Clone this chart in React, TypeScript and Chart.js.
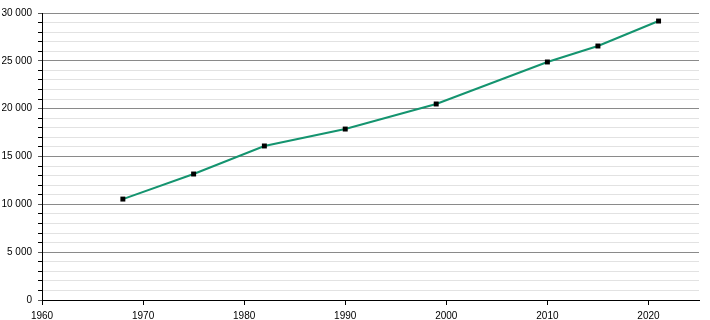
import React, { useEffect, useRef } from "react";
import { Chart, registerables } from "chart.js";

Chart.register(...registerables);

const years = [1968, 1975, 1982, 1990, 1999, 2010, 2015, 2021];
const population = [10550, 13170, 16100, 17870, 20490, 24880, 26550, 29160];
const yTickLabels = ["0", "5 000", "10 000", "15 000", "20 000", "25 000", "30 000"];
const xTickLabels = ["1960", "1970", "1980", "1990", "2000", "2010", "2020"];

const FONT = "'Liberation Sans', Arial, sans-serif";

export default function App() {
  const ref = useRef<HTMLCanvasElement | null>(null);

  useEffect(() => {
    document.body.style.margin = "0";
    if (!ref.current) return;
    const chart = new Chart(ref.current, {
      type: "line",
      data: {
        datasets: [
          {
            data: years.map((y, i) => ({ x: y, y: population[i] })),
            borderColor: "#14946f",
            borderWidth: 2,
            pointStyle: "rect",
            pointRadius: 3.5,
            pointBackgroundColor: "#000",
            pointBorderColor: "#000",
            pointBorderWidth: 0,
            tension: 0,
          },
        ],
      },
      options: {
        animation: false,
        responsive: false,
        maintainAspectRatio: false,
        layout: { padding: { top: 13, right: 11, left: 0, bottom: 0 } },
        plugins: { legend: { display: false }, tooltip: { enabled: false } },
        scales: {
          x: {
            type: "linear",
            min: 1960,
            max: 2025,
            afterFit: (s: any) => {
              s.height = 20;
            },
            ticks: {
              stepSize: 10,
              includeBounds: false,
              autoSkip: false,
              maxRotation: 0,
              padding: 5,
              color: "#000",
              font: { family: FONT, size: 10 },
              callback: (v: any) => {
                const idx = xTickLabels.indexOf(String(v));
                return idx >= 0 ? xTickLabels[idx] : "";
              },
            },
            grid: {
              drawOnChartArea: false,
              drawTicks: true,
              tickLength: 5,
              tickColor: "#000",
            },
            border: { color: "#000", width: 1 },
          },
          y: {
            type: "linear",
            min: 0,
            max: 30000,
            afterFit: (s: any) => {
              s.width = 42;
            },
            ticks: {
              stepSize: 1000,
              autoSkip: false,
              padding: 6,
              color: "#000",
              font: { family: FONT, size: 10 },
              callback: (v: any) => {
                const n = Number(v);
                if (n % 5000 !== 0) return "";
                return yTickLabels[n / 5000];
              },
            },
            grid: {
              drawTicks: true,
              tickLength: 4,
              color: (ctx: any) =>
                ctx.tick && ctx.tick.value % 5000 === 0 ? "#8a8a8a" : "#e2e2e2",
              tickColor: (ctx: any) =>
                ctx.tick && ctx.tick.value % 5000 === 0 ? "#555" : "#000",
              lineWidth: 1,
            },
            border: { color: "#000", width: 1 },
          },
        },
      },
    });
    return () => chart.destroy();
  }, []);

  return (
    <div style={{ position: "absolute", left: 0, top: 0, width: 710, height: 320, background: "#fff" }}>
      <canvas ref={ref} width={710} height={320} style={{ width: 710, height: 320 }} />
    </div>
  );
}
